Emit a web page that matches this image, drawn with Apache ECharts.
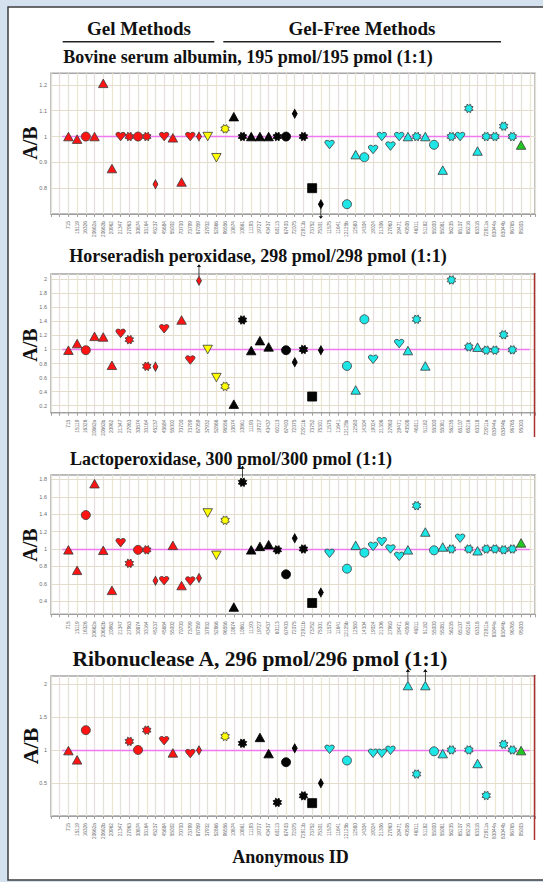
<!DOCTYPE html>
<html><head><meta charset="utf-8">
<script src="https://cdn.jsdelivr.net/npm/echarts@6/dist/echarts.min.js"></script>
<style>html,body{margin:0;padding:0;background:#d4e2f0;}#c{width:543px;height:882px;}</style>
</head><body><div id="c"></div>
<script>
// ---------- data ----------
const categories = ['715','15119','16326','20662a','20662b','20962','21347','27963','30874','33164','45237','45684','55002','70700','73799','87059',
  '37932','52866','96556',
  '10874','10861','11193','19727','43437','60113','67403','72075','72911b','73752','75301',
  '11575','11641','12125b','12580','14304','19024','21306','27960','29471','40508','46011','51182','55000','55081','56235','65107','65216','63318','72911a','83044a','83044b','96765',
  '95003'];
// method group (colour) per lab
const groups = ['R','R','R','R','R','R','R','R','R','R','R','R','R','R','R','R',
  'Y','Y','Y',
  'K','K','K','K','K','K','K','K','K','K','K',
  'C','C','C','C','C','C','C','C','C','C','C','C','C','C','C','C','C','C','C','C','C','C',
  'G'];
// marker shape per lab
const shapes = ['tri','tri','circle','tri','tri','tri','heart','star','circle','star','diamond','heart','tri','tri','heart','diamond',
  'tridown','tridown','star',
  'tri','star','tri','tri','tri','star','circle','diamond','star','square','diamond',
  'heart','heart','circle','tri','circle','heart','heart','heart','heart','tri','star','tri','circle','tri','star','heart','star','tri','star','star','star','star',
  'tri'];

const bsa = [1.0,0.99,1.0,1.0,1.206,0.876,1.0,1.0,1.0,1.0,0.815,1.0,0.995,0.824,1.0,1.0,
  1.0,0.918,1.03,
  1.077,1.0,1.0,1.0,1.0,1.0,1.0,1.088,1.0,0.8,0.738,
  0.969,null,0.738,0.93,0.92,0.95,1.0,0.963,1.0,1.0,1.0,1.0,0.968,0.87,1.0,1.0,1.109,0.944,1.0,1.0,1.04,1.0,
  0.967];
const hrp = [0.99,1.084,0.99,1.187,1.178,0.775,1.23,1.14,null,0.76,0.756,1.295,null,1.42,0.85,1.98,
  1.0,0.6,0.475,
  0.222,1.42,0.985,1.126,1.037,null,0.99,0.82,1.0,0.33,0.99,
  null,null,0.766,0.424,1.43,0.86,null,null,1.084,0.985,1.43,0.766,null,null,1.99,null,1.037,1.033,0.99,0.99,1.21,0.995,
  null];
const lpo = [0.99,0.755,1.39,1.75,0.985,0.525,1.073,0.835,0.99,0.99,0.636,0.636,1.042,0.58,0.632,0.667,
  1.414,0.927,1.33,
  0.333,1.766,0.99,1.03,1.05,0.99,0.709,1.123,1.0,0.38,0.5,
  0.95,null,0.774,1.042,0.958,1.03,1.084,1.0,0.916,0.99,1.498,1.195,0.985,1.023,1.0,1.123,1.0,0.98,1.0,1.0,0.99,1.0,
  1.07];
const rna = [0.99,0.85,1.3,null,null,null,null,1.13,1.0,1.3,null,1.14,0.955,null,0.945,0.995,
  null,null,1.205,
  null,1.1,null,1.19,0.945,0.205,0.815,1.025,0.305,0.195,0.495,
  1.01,null,0.84,null,null,0.95,0.95,0.995,null,1.975,0.635,1.975,0.98,0.945,1.0,null,1.0,0.795,0.31,null,1.085,1.0,
  0.99];
// off-scale markers (index, direction)
const bsaArrows = [[29,'down']];
const hrpArrows = [[15,'up']];
const lpoArrows = [[20,'up']];
const rnaArrows = [[39,'up'],[41,'up']];
// y tick labels
const bsaTicks = [0.8,0.9,1,1.1,1.2];
const hrpTicks = [0.2,0.4,0.6,0.8,1,1.2,1.4,1.6,1.8,2];
const lpoTicks = [0.4,0.6,0.8,1,1.2,1.4,1.6,1.8];
const rnaTicks = [0.5,1,1.5,2];

// ---------- layout / style ----------
const panels = [
  {title:'Bovine serum albumin, 195 pmol/195 pmol (1:1)', vals:bsa, arrows:bsaArrows, ticks:bsaTicks,
   min:0.7, max:1.245, step:0.1, top:73.3, height:140.7, tx:248, ty:57, ts:18, abY:143, abS:20, red:false},
  {title:'Horseradish peroxidase, 298 pmol/298 pmol (1:1)', vals:hrp, arrows:hrpArrows, ticks:hrpTicks,
   min:0.1, max:2.075, step:0.1, top:274, height:138.7, tx:258, ty:256, ts:18, abY:345, abS:20, red:true, redY:[273,437]},
  {title:'Lactoperoxidase, 300 pmol/300 pmol (1:1)', vals:lpo, arrows:lpoArrows, ticks:lpoTicks,
   min:0.25, max:1.85, step:0.05, top:475, height:139.3, tx:231, ty:459, ts:18, abY:545, abS:20, red:false},
  {title:'Ribonuclease A, 296 pmol/296 pmol (1:1)', vals:rna, arrows:rnaArrows, ticks:rnaTicks,
   min:0, max:2.12, step:0.5, top:676, height:140, tx:260, ty:659, ts:21.5, abY:746, abS:22, red:true, redY:[675,840]}
];
const groupColors = {R:'#ff1414', Y:'#ffff00', K:'#050505', C:'#1ee6e6', G:'#22c822'};
function starPath(n, r1, r2){
  let d='';
  for(let k=0;k<2*n;k++){
    const r = k%2 ? r2 : r1;
    const a = Math.PI*k/n - Math.PI/2 + Math.PI/8;
    d += (k?'L':'M') + (10+10*r*Math.cos(a)).toFixed(2) + ' ' + (10+10*r*Math.sin(a)).toFixed(2) + ' ';
  }
  return 'path://' + d + 'Z';
}
const heartPath = 'path://M5 10 L0.4 3.6 C-0.6 1.6 0.6 0 2.5 0 C3.8 0 4.6 0.8 5 1.6 C5.4 0.8 6.2 0 7.5 0 C9.4 0 10.6 1.6 9.6 3.6 Z';
const arrowPath = 'path://M5 0 L10 8 L5.8 6.5 L5.8 30 L4.2 30 L4.2 6.5 L0 8 Z';
const symbolSpec = {
  tri:{symbol:'triangle', size:[9.5,8.5], rotate:0},
  tridown:{symbol:'triangle', size:[9.5,8.5], rotate:180},
  circle:{symbol:'circle', size:9, rotate:0},
  star:{symbol:starPath(8,1,0.66), size:8.5, rotate:0},
  heart:{symbol:heartPath, size:[9.5,8.5], rotate:0},
  diamond:{symbol:'diamond', size:[5,9], rotate:0},
  square:{symbol:'rect', size:9, rotate:0}
};
const SERIF = '"Liberation Serif","Times New Roman",serif';

const grids=[], xAxes=[], yAxes=[], series=[];
panels.forEach((p, pi) => {
  grids.push({left:51, right:8, top:p.top, height:p.height, show:true, backgroundColor:'#ffffff',
    borderColor:'#a6a6a6', borderWidth:1.5});
  xAxes.push({type:'value', gridIndex:pi, min:-2, max:53.6, interval:1,
    axisLine:{show:true, lineStyle:{color:'#a0a0a0'}},
    axisTick:{show:true, length:3, lineStyle:{color:'#a0a0a0'}},
    axisLabel:{rotate:90, fontSize:4.8, color:'#6e6e6e', margin:7, fontFamily:'Arial, "Liberation Sans", sans-serif',
      formatter: v => { const i=Math.round(v); return (Math.abs(v-i)<1e-6 && i>=0 && i<categories.length) ? categories[i] : ''; }},
    splitLine:{show:true, lineStyle:{color:['#e2e2d8','#e9dede','#e2e2d8','#ebe7d2'], width:1.3}}});
  const ticks = p.ticks;
  yAxes.push({type:'value', gridIndex:pi, min:p.min, max:p.max, interval:p.step,
    axisLine:{show:false}, axisTick:{show:false}, splitLine:{show:false},
    axisLabel:{fontSize:5.5, color:'#6e6e6e', margin:4, fontFamily:'Arial, "Liberation Sans", sans-serif',
      formatter: v => { const t = ticks.find(t => Math.abs(t-v)<1e-6); return t===undefined ? '' : String(t); }}});
  // grid lines and reference line at 1
  series.push({type:'scatter', xAxisIndex:pi, yAxisIndex:pi, data:[], silent:true, z:1,
    markLine:{silent:true, z:1, symbol:'none', label:{show:false}, animation:false,
      data: ticks.map(t => ({yAxis:t, lineStyle:{color:'#e4dccd', width:1, type:'solid'}}))
        .concat([[{coord:[-0.7,1], lineStyle:{color:'#f078f0', width:1.3, type:'solid'}},{coord:[53,1]}]])}});
  const data=[];
  p.vals.forEach((v,i) => {
    if (v==null) return;
    const s = symbolSpec[shapes[i]];
    data.push({value:[i,v], symbol:s.symbol, symbolSize:s.size, symbolRotate:s.rotate,
      itemStyle:{color:groupColors[groups[i]], borderColor: groups[i]==='K' ? '#000' : '#3a3a3a', borderWidth:0.8, opacity:1}});
  });
  series.push({type:'scatter', xAxisIndex:pi, yAxisIndex:pi, data, z:3, clip:false, silent:true});
  series.push({type:'scatter', xAxisIndex:pi, yAxisIndex:pi, z:4, clip:false, silent:true,
    itemStyle:{color:'#000', opacity:1},
    data: p.arrows.map(([i,dir]) => ({value:[i,p.vals[i]], symbol:arrowPath,
      symbolSize: dir==='down' ? [4.5,10] : [4.5,12],
      symbolRotate: dir==='down' ? 180 : 0,
      symbolOffset: [0, dir==='down' ? 9.5 : -10.5]}))});
});

const graphic = [
  {type:'rect', z:-10, shape:{x:8, y:7, width:545, height:873}, style:{fill:'#ffffff', stroke:'#3c3c3c', lineWidth:1.5}},
  {type:'text', x:139, y:28.7, style:{text:'Gel Methods', font:'bold 19px '+SERIF, fill:'#111', align:'center', verticalAlign:'middle'}},
  {type:'text', x:362, y:28.7, style:{text:'Gel-Free Methods', font:'bold 19px '+SERIF, fill:'#111', align:'center', verticalAlign:'middle'}},
  {type:'line', shape:{x1:62.7, y1:41.7, x2:214.3, y2:41.7}, style:{stroke:'#222', lineWidth:1.4}},
  {type:'line', shape:{x1:223.3, y1:41.7, x2:501, y2:41.7}, style:{stroke:'#222', lineWidth:1.4}},
  {type:'text', x:290.5, y:857, style:{text:'Anonymous ID', font:'bold 18px '+SERIF, fill:'#111', align:'center', verticalAlign:'middle'}}
];
panels.forEach(p => {
  graphic.push({type:'text', x:p.tx, y:p.ty, style:{text:p.title, font:'bold '+p.ts+'px '+SERIF, fill:'#111', align:'center', verticalAlign:'middle'}});
  graphic.push({type:'text', x:30, y:p.abY, rotation:Math.PI/2, style:{text:'A/B', font:'bold '+p.abS+'px '+SERIF, fill:'#111', align:'center', verticalAlign:'middle'}});
  if (p.red) graphic.push({type:'line', z:10, shape:{x1:534.5, y1:p.redY[0], x2:534.5, y2:p.redY[1]}, style:{stroke:'#a83232', lineWidth:1.5}});
});

const chart = echarts.init(document.getElementById('c'), null, {renderer:'svg'});
chart.setOption({
  backgroundColor:'#d4e2f0',
  animation:false,
  grid:grids, xAxis:xAxes, yAxis:yAxes, series, graphic
});
</script></body></html>
